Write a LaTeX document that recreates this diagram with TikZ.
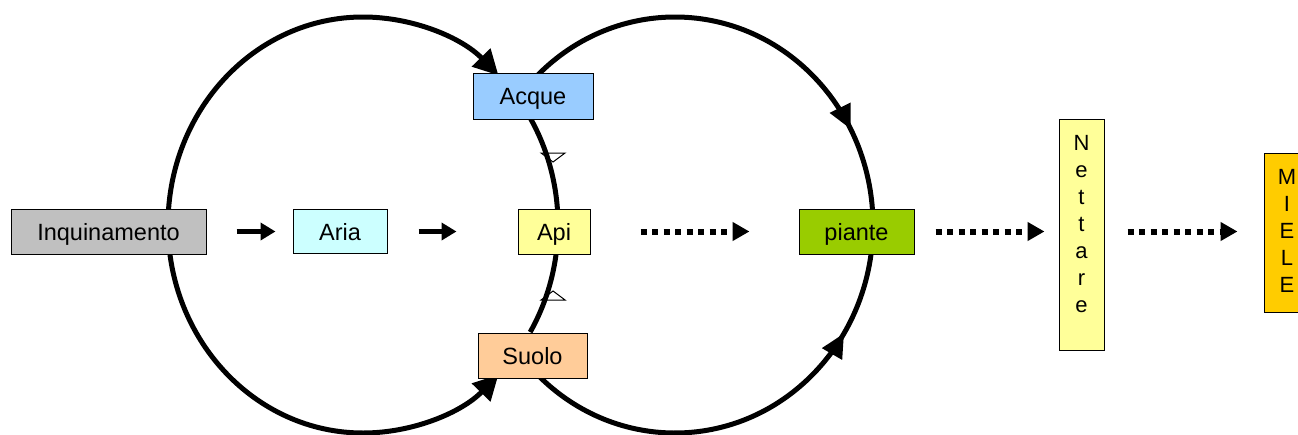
\documentclass[tikz,border=0pt]{standalone}
\usepackage{fontspec}
\setmainfont{Liberation Sans}
\usetikzlibrary{arrows.meta,decorations.markings}
\definecolor{cgray}{HTML}{C0C0C0}
\definecolor{caria}{HTML}{CCFFFF}
\definecolor{capi}{HTML}{FFFF99}
\definecolor{cacque}{HTML}{99CCFF}
\definecolor{csuolo}{HTML}{FFCC99}
\definecolor{cpiante}{HTML}{99CC00}
\definecolor{cmiele}{HTML}{FFCC00}
\begin{document}
\begin{tikzpicture}[x=1pt,y=1pt,
  box/.style={draw=black, line width=1pt, inner sep=0pt, text height=17pt, text depth=0pt, font=\fontsize{23.5}{27}\selectfont, text=black},
  vbox/.style={draw=black, line width=1pt, inner sep=0pt},
  vtext/.style={inner sep=0pt, font=\fontsize{22}{27}\selectfont, align=center, text=black},
  loopline/.style={line width=5pt},
  endtip/.style={-{Triangle[length=25pt,width=25pt]}},
  midfill/.style={postaction={decorate}, decoration={markings, mark=at position #1 with {\arrow{Triangle[length=24pt,width=22pt]}}}},
  opentri/.style={draw=black, line width=1pt, fill=white, line join=miter},
  solidarrow/.style={line width=5pt, -{Triangle[length=15pt,width=17pt]}},
  dotarrow/.style={line width=6pt, dash pattern=on 6pt off 5.5pt, -{Triangle[length=17pt,width=18pt]}}
]
\useasboundingbox (0,0) rectangle (1298,-434);
\clip (0,0) rectangle (1298,-434);

% loop start points
\coordinate (l0) at (168,-225);
\coordinate (li1) at ({363+195*cos(31)},{-225+208*sin(31)});
\coordinate (li2) at ({363+195*cos(-31)},{-225+208*sin(-31)});
\coordinate (r1) at ({675+198*cos(134)},{-225+208*sin(134)});
\coordinate (r2) at ({675+198*cos(-134)},{-225+208*sin(-134)});

% open arrowheads on the inner arcs (drawn under the curve)
\draw[opentri] (541,-153) -- (565,-153) -- (553,-162) -- cycle;
\draw[opentri] (541,-300) -- (565,-300) -- (553,-291) -- cycle;

% left loop
\draw[loopline, endtip] (l0) arc[start angle=180, end angle=46, x radius=195, y radius=208];
\draw[loopline, endtip] (l0) arc[start angle=180, end angle=314, x radius=195, y radius=208];
\draw[loopline] (li1) arc[start angle=31, end angle=4, x radius=195, y radius=208];
\draw[loopline] (li2) arc[start angle=-31, end angle=-4, x radius=195, y radius=208];

% right loop
\draw[loopline, midfill=0.79] (r1) arc[start angle=134, end angle=0, x radius=198, y radius=208];
\draw[loopline, midfill=0.76] (r2) arc[start angle=-134, end angle=0, x radius=198, y radius=208];

% boxes
\node[box, fill=cgray, minimum width=195pt, minimum height=45pt] (inq) at (108.5,-231.5) {Inquinamento};
\node[box, fill=caria, minimum width=94pt, minimum height=44pt] (aria) at (340,-231.5) {Aria};
\node[box, fill=capi, minimum width=72pt, minimum height=45pt] (api) at (554,-231.5) {Api};
\node[box, fill=cacque, minimum width=120pt, minimum height=46pt] (acque) at (533,-96) {Acque};
\node[box, fill=csuolo, minimum width=109pt, minimum height=45pt] (suolo) at (532.5,-355.5) {Suolo};
\node[box, fill=cpiante, minimum width=115pt, minimum height=45pt] (piante) at (856.5,-231.5) {piante};
\node[vbox, fill=capi, minimum width=45pt, minimum height=231pt] (nettare) at (1081.5,-234.5) {};
\node[vtext] (nettaretext) at (1081.5,-224) {N\\e\\t\\t\\a\\r\\e};
\node[vbox, fill=cmiele, minimum width=46pt, minimum height=159pt] (miele) at (1287,-232.5) {};
\node[vtext] (mieletext) at (1287,-231) {M\\I\\E\\L\\E};

% arrows
\draw[solidarrow, shorten <=30pt, shorten >=17pt] (inq.east) -- (aria.west);
\draw[solidarrow, shorten <=31pt, shorten >=61pt] (aria.east) -- (api.west);
\draw[dotarrow, shorten <=50pt, shorten >=49pt] (api.east) -- (piante.west);
\draw[dotarrow, shorten <=21pt, shorten >=14pt] (piante.east) -- (nettare.west |- piante.east);
\draw[dotarrow, shorten <=23pt, shorten >=26pt] (nettare.east |- piante.east) -- (miele.west |- piante.east);
\end{tikzpicture}
\end{document}
